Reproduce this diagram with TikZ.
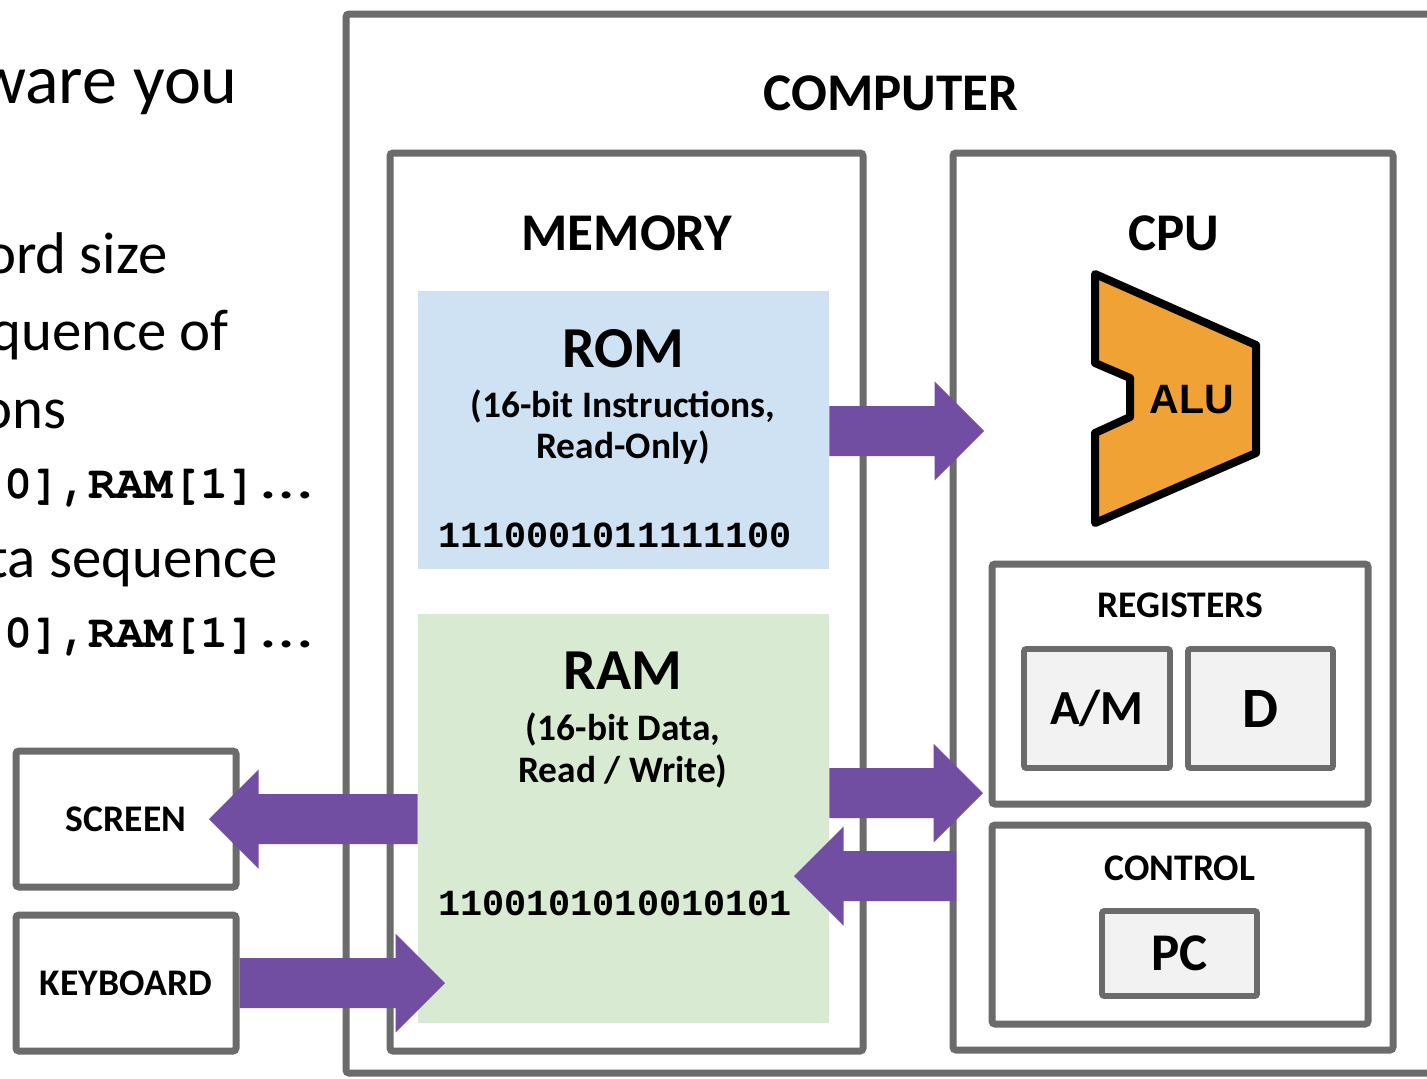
\documentclass[tikz,border=0pt]{standalone}
\usepackage{fontspec}
\setmainfont{Carlito}
\newfontfamily\monof{Liberation Mono}
\newfontfamily\arialf{Liberation Sans}
\newfontfamily\cursorf{TeX Gyre Cursor}
\usetikzlibrary{calc}
\definecolor{boxgray}{RGB}{107,107,107}
\definecolor{arrowpurple}{RGB}{113,78,162}
\definecolor{romblue}{RGB}{207,226,243}
\definecolor{ramgreen}{RGB}{217,234,211}
\definecolor{regfill}{RGB}{242,242,242}
\definecolor{aluorange}{RGB}{241,162,52}
\newcommand\codetxt[1]{{\cursorf\bfseries\fontsize{23.4}{28}\selectfont #1}}
\newcommand\widedots{\scalebox{1.25}[1]{…}}
\tikzset{
  boxline/.style={draw=boxgray, line width=3.5pt, rounded corners=1.5pt},
  box/.style={boxline, fill=white, inner sep=0pt},
  regbox/.style={draw=boxgray, line width=2.8pt, rounded corners=1pt, fill=regfill, inner sep=0pt,
    font=\bfseries},
  membox/.style={inner sep=0pt, draw=none},
  flow/.style={fill=arrowpurple},
  ttl/.style={font=\fontsize{26.5}{30}\selectfont\bfseries, inner sep=0pt, anchor=base},
  bigttl/.style={font=\fontsize{29}{33}\selectfont\bfseries, inner sep=0pt, anchor=base},
  subttl/.style={font=\fontsize{18.7}{22}\selectfont\bfseries, inner sep=0pt, anchor=base},
  bits/.style={font=\fontsize{18.4}{22}\selectfont\monof\bfseries, inner sep=0pt, anchor=base},
  smallttl/.style={font=\fontsize{18.8}{22}\selectfont\bfseries, inner sep=0pt, anchor=base},
  iobox/.style={box, font=\fontsize{18.8}{22}\selectfont\bfseries},
  slide/.style={font=\fontsize{29.4}{34}\selectfont, inner sep=0pt, anchor=base east},
  alushape/.style={draw=black, line width=4pt, line join=round, fill=aluorange},
}
\newcommand\rarrow[2]{\fill[flow] let \p1=(#1), \p2=(#2) in
  (\x1,\y2+12.5pt) -- (\x2-24.75pt,\y2+12.5pt) -- (\x2-24.75pt,\y2+24.75pt) -- (\x2,\y2)
  -- (\x2-24.75pt,\y2-24.75pt) -- (\x2-24.75pt,\y2-12.5pt) -- (\x1,\y2-12.5pt) -- cycle;}
\newcommand\larrow[2]{\fill[flow] let \p1=(#1), \p2=(#2) in
  (\x1,\y2+12.5pt) -- (\x2+24.75pt,\y2+12.5pt) -- (\x2+24.75pt,\y2+24.75pt) -- (\x2,\y2)
  -- (\x2+24.75pt,\y2-24.75pt) -- (\x2+24.75pt,\y2-12.5pt) -- (\x1,\y2-12.5pt) -- cycle;}
\begin{document}
\begin{tikzpicture}[x=0.5pt, y=-0.5pt]
\path[use as bounding box] (0,0) rectangle (1427,1078);
\clip (0,0) rectangle (1427,1078);
\fill[white] (0,0) rectangle (1427,1078);

% slide text (cropped at the left edge)
\node[slide, font=\fontsize{35}{40}\selectfont] (s1) at (238,103) {ware you};
\node[slide] (s2) at (168,273) {ord size};
\node[slide] (s3) at (229,350) {quence of};
\node[slide] (s4) at (67,428) {ons};
\node[slide] (s5) at (313,498) {\codetxt{0],RAM[1]}\hspace{2.5pt}\widedots};
\node[slide] (s6) at (278,577) {ta sequence};
\node[slide] (s7) at (313,647) {\codetxt{0],RAM[1]}\hspace{2.5pt}\widedots};

% computer (its right side lies beyond the picture)
\coordinate (compNE) at (1427,14);
\coordinate (compNW) at (346,14);
\coordinate (compSW) at (346,1073);
\coordinate (compSE) at (1427,1073);
\draw[boxline] (compNE) -- (compNW) -- (compSW) -- (compSE);
\node[ttl] (computerlbl) at (891,110) {COMPUTER};

% memory
\node[box, minimum width=236.5pt, minimum height=449pt] (memory) at (626.5,602) {};
\node[ttl] (memorylbl) at (627,250) {MEMORY};
\node[membox, fill=romblue, minimum width=205.5pt, minimum height=139pt] (rom) at (623.5,430) {};
\node[bigttl] (romlbl) at (623,367) {ROM};
\node[subttl] (romsub1) at (623,417) {(16-bit Instructions,};
\node[subttl] (romsub2) at (623,458) {Read-Only)};
\node[bits] (rombits) at (615,547) {1110001011111100};
\node[membox, fill=ramgreen, minimum width=205.5pt, minimum height=204.5pt] (ram) at (623.5,818.5) {};
\node[bigttl] (ramlbl) at (623,689) {RAM};
\node[subttl] (ramsub1) at (623,740) {(16-bit Data,};
\node[subttl] (ramsub2) at (623,782) {Read / Write)};
\node[bits] (rambits) at (615,915) {1100101010010101};

% cpu
\node[box, minimum width=220pt, minimum height=448.5pt] (cpu) at (1173,601.5) {};
\node[ttl] (cpulbl) at (1174,250) {CPU};
\draw[alushape] (1095,274) -- (1256,345) -- (1256,453) -- (1095,523) -- (1095,433)
  -- (1130,417) -- (1130,378) -- (1095,363) -- cycle;
\node[font=\fontsize{20.5}{24}\selectfont\arialf\bfseries, inner sep=0pt, anchor=base] (alu) at (1192,413) {ALU};

\node[box, minimum width=188pt, minimum height=120pt] (regs) at (1180,684) {};
\node[smallttl] (regslbl) at (1180,617) {REGISTERS};
\node[regbox, minimum width=73pt, minimum height=59.5pt, font=\fontsize{24.5}{28}\selectfont\bfseries] (am) at (1097,708.5) {A/M};
\node[regbox, minimum width=72.5pt, minimum height=59.5pt, font=\fontsize{28.5}{32}\selectfont\bfseries] (d) at (1260.5,708.5) {D};

\node[box, minimum width=188pt, minimum height=99.5pt] (ctrl) at (1180,924.5) {};
\node[smallttl] (ctrllbl) at (1180,880) {CONTROL};
\node[regbox, minimum width=77.5pt, minimum height=42.5pt, font=\fontsize{26.5}{30}\selectfont\bfseries] (pc) at (1179.5,953.5) {PC};

% I/O devices
\node[iobox, minimum width=110pt, minimum height=68pt] (screen) at (126,819) {SCREEN};
\node[iobox, minimum width=110pt, minimum height=68pt] (keyboard) at (126,983) {KEYBOARD};

% connectors
\coordinate (romtip) at (984,431);
\coordinate (regtip) at (983,793);
\coordinate (ctrltail) at (956,876);
\coordinate (ramtip) at (794,876);
\coordinate (scrtip) at (209,819);
\coordinate (kbdtip) at (445,983);
\rarrow{rom.east}{romtip}
\rarrow{ram.east}{regtip}
\larrow{ctrltail}{ramtip}
\larrow{ram.west}{scrtip}
\rarrow{keyboard.east}{kbdtip}
\end{tikzpicture}
\end{document}
